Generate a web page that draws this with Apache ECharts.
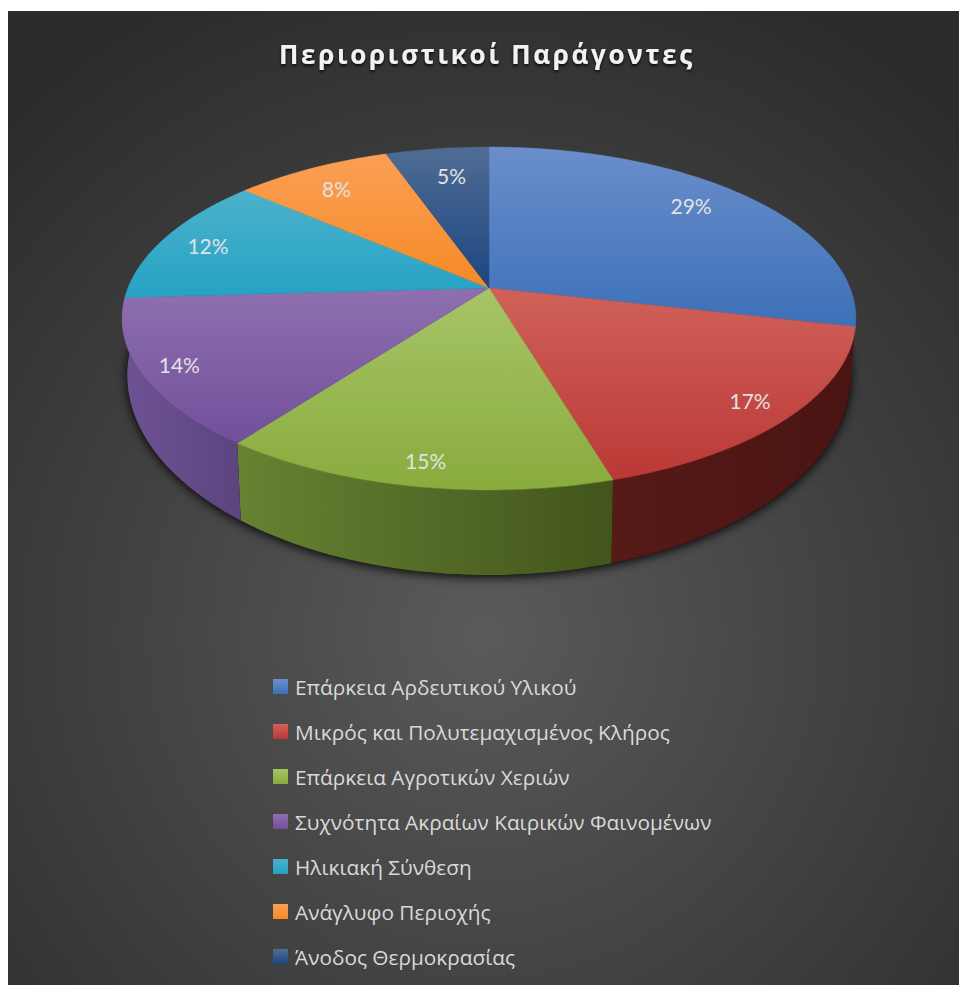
<!DOCTYPE html>
<html>
<head>
<meta charset="utf-8">
<style>
html,body{margin:0;padding:0;background:#fff;width:959px;height:985px;overflow:hidden}
#chart{position:absolute;left:8px;top:11px;width:951px;height:974px}
#chart svg text[style*="bold"]{letter-spacing:2.7px}
</style>
<script src="https://cdn.jsdelivr.net/npm/echarts@6/dist/echarts.min.js"></script>
</head>
<body>
<div id="chart"></div>
<script>
const titleText = 'Περιοριστικοί Παράγοντες';
const categories = [
  'Επάρκεια Αρδευτικού Υλικού',
  'Μικρός και Πολυτεμαχισμένος Κλήρος',
  'Επάρκεια Αγροτικών Χεριών',
  'Συχνότητα Ακραίων Καιρικών Φαινομένων',
  'Ηλικιακή Σύνθεση',
  'Ανάγλυφο Περιοχής',
  'Άνοδος Θερμοκρασίας'
];
const shares = [28.6, 16.8, 14.8, 13.9, 12.3, 8.2, 5.4];

// styling
const topLight = ['#6a8ecb','#cf6259','#a7c569','#8e70b0','#4bb2cc','#fb9f55','#4f6c94'];
const topBase  = ['#3d70b8','#bb3835','#8aab3d','#734f9b','#26a2c4','#f58a26','#1c4680'];
const wallLeft = ['#3a5f94','#561a17','#668232','#6e5394','#24809a','#bb6a1e','#1c3a63'];
const wallRight= ['#2a4a7a','#4a1412','#42551c','#5b4480','#1c6a80','#9b5a18','#162f52'];
const labelReach = [0.82, 0.885, 0.89, 0.90, 0.86, 0.82, 0.78];
const labelTurn  = [-3, 0, -0.5, 0, -0.5, -1, 1];

// projected disc: a tilted circle in perspective
const discTop    = {cx:481, cy:277, rx:361, ry:166, k:0.178};
const discBottom = {cx:481, cy:328.4, rx:356, ry:193.7, k:0.178};

function project(d, deg, f){
  const t = deg*Math.PI/180, s = Math.sin(t), c = Math.cos(t), w = 1 + d.k*f*c;
  return [d.cx + d.rx*f*s/w, d.cy - d.ry*f*c/w];
}
function arc(d, a0, a1){
  const pts = [], n = Math.max(2, Math.ceil(Math.abs(a1-a0)/1.5));
  for(let i=0;i<=n;i++) pts.push(project(d, a0+(a1-a0)*i/n, 1));
  return pts;
}
const total = shares.reduce((a,b)=>a+b,0);
const startAngle = shares.map((_,i)=>shares.slice(0,i).reduce((a,b)=>a+b,0)/total*360);
const grad = (x2,y2,a,b)=>({type:'linear',x:0,y:0,x2:x2,y2:y2,colorStops:[{offset:0,color:a},{offset:1,color:b}]});

function sliceRenderer(i){
  return function(){
    const a0 = startAngle[i], a1 = a0 + shares[i]/total*360;
    const topArc = arc(discTop,a0,a1);
    const wall = topArc.concat(arc(discBottom,a0,a1).reverse());
    const face = [project(discTop,0,0)].concat(topArc);
    const fill = grad(0,1,topLight[i],topBase[i]);
    const mid = (a0+a1)/2 + labelTurn[i];
    const lp = project(discTop,mid,labelReach[i]);
    return {type:'group',children:[
      {type:'polygon',z2:1+(i===1||i===2||i===3?1:0),shape:{points:wall},
        style:{fill:grad(1,0,wallLeft[i],wallRight[i])}},
      {type:'polygon',z2:10,shape:{points:face},
        style:{fill:fill,stroke:fill,lineWidth:0.5}},
      {type:'text',z2:20,x:lp[0],y:lp[1],
        style:{text:Math.round(shares[i]/total*100)+'%',fill:'#e2e2e2',
          font:'21px Lato, "Open Sans", sans-serif',align:'center',verticalAlign:'middle'}}
    ]};
  };
}
const series = categories.map((name,i)=>({
  type:'custom',name:name,coordinateSystem:'none',data:[[shares[i]]],silent:true,animation:false,z:2,
  itemStyle:{color:topBase[i]},renderItem:sliceRenderer(i)
}));
series.unshift({
  type:'custom',name:'shadow',coordinateSystem:'none',data:[[0]],silent:true,animation:false,z:1,
  renderItem(){
    return {type:'polygon',shape:{points:arc(discBottom,0,360)},
      style:{fill:'#111',shadowBlur:11,shadowColor:'rgba(0,0,0,0.95)',shadowOffsetY:2}};
  }
});

const chart = echarts.init(document.getElementById('chart'),null,{renderer:'svg'});
chart.setOption({
  animation:false,
  backgroundColor:{type:'radial',x:0.5,y:0.64,r:0.72,colorStops:[
    {offset:0,color:'#5a5a5a'},{offset:1,color:'#2c2c2c'}]},
  title:{text:titleText,left:266,top:25,textStyle:{
    color:'#f2f2f2',fontFamily:'"Open Sans", sans-serif',fontWeight:'bold',fontSize:26,
    textShadowColor:'rgba(0,0,0,0.8)',textShadowBlur:3,textShadowOffsetY:2}},
  legend:{
    orient:'vertical',left:260,top:658,itemWidth:15,itemHeight:15,itemGap:20,
    data:categories.map((name,i)=>({name:name,icon:'rect',itemStyle:{color:grad(0,1,topLight[i],topBase[i])}})),
    textStyle:{color:'#d9d9d9',fontFamily:'"Open Sans", sans-serif',fontSize:20.8,lineHeight:25,padding:[0,0,0,2]}
  },
  series:series
});
</script>
</body>
</html>
